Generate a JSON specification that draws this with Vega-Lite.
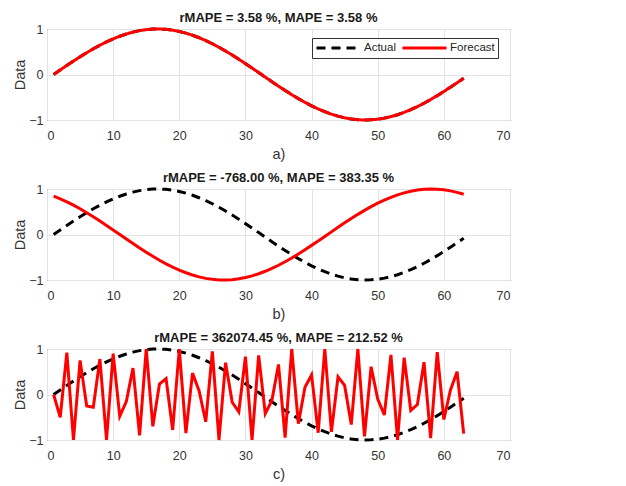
{
  "$schema": "https://vega.github.io/schema/vega-lite/v6.json",
  "padding": {"left": 12, "top": 11, "right": 5, "bottom": 2},
  "background": "white",
  "datasets": {
    "rows": [
      {"x":1,"A":0,"Fb":0.842,"Fc":0},
      {"x":2,"A":0.100,"Fb":0.783,"Fc":-0.5},
      {"x":3,"A":0.199,"Fb":0.717,"Fc":0.92},
      {"x":4,"A":0.296,"Fb":0.644,"Fc":-1},
      {"x":5,"A":0.389,"Fb":0.565,"Fc":0.75},
      {"x":6,"A":0.479,"Fb":0.479,"Fc":-0.25},
      {"x":7,"A":0.565,"Fb":0.389,"Fc":-0.28},
      {"x":8,"A":0.644,"Fb":0.296,"Fc":0.78},
      {"x":9,"A":0.717,"Fb":0.199,"Fc":-1},
      {"x":10,"A":0.783,"Fb":0.100,"Fc":0.9},
      {"x":11,"A":0.841,"Fb":0,"Fc":-0.48},
      {"x":12,"A":0.891,"Fb":-0.100,"Fc":-0.15},
      {"x":13,"A":0.932,"Fb":-0.199,"Fc":0.58},
      {"x":14,"A":0.964,"Fb":-0.296,"Fc":-0.9},
      {"x":15,"A":0.985,"Fb":-0.389,"Fc":1.0},
      {"x":16,"A":0.998,"Fb":-0.479,"Fc":-0.7},
      {"x":17,"A":1.000,"Fb":-0.565,"Fc":0.23},
      {"x":18,"A":0.992,"Fb":-0.644,"Fc":0.35},
      {"x":19,"A":0.974,"Fb":-0.717,"Fc":-0.78},
      {"x":20,"A":0.946,"Fb":-0.783,"Fc":1.0},
      {"x":21,"A":0.909,"Fb":-0.841,"Fc":-0.85},
      {"x":22,"A":0.863,"Fb":-0.891,"Fc":0.47},
      {"x":23,"A":0.808,"Fb":-0.932,"Fc":0.08},
      {"x":24,"A":0.746,"Fb":-0.964,"Fc":-0.6},
      {"x":25,"A":0.676,"Fb":-0.985,"Fc":0.95},
      {"x":26,"A":0.599,"Fb":-0.998,"Fc":-1},
      {"x":27,"A":0.516,"Fb":-1.000,"Fc":0.7},
      {"x":28,"A":0.427,"Fb":-0.992,"Fc":-0.17},
      {"x":29,"A":0.335,"Fb":-0.974,"Fc":-0.38},
      {"x":30,"A":0.239,"Fb":-0.946,"Fc":0.83},
      {"x":31,"A":0.141,"Fb":-0.909,"Fc":-1},
      {"x":32,"A":0.042,"Fb":-0.863,"Fc":0.86},
      {"x":33,"A":-0.058,"Fb":-0.808,"Fc":-0.42},
      {"x":34,"A":-0.158,"Fb":-0.746,"Fc":-0.13},
      {"x":35,"A":-0.256,"Fb":-0.676,"Fc":0.66},
      {"x":36,"A":-0.351,"Fb":-0.599,"Fc":-0.95},
      {"x":37,"A":-0.443,"Fb":-0.516,"Fc":1.0},
      {"x":38,"A":-0.530,"Fb":-0.427,"Fc":-0.64},
      {"x":39,"A":-0.612,"Fb":-0.335,"Fc":0.16},
      {"x":40,"A":-0.688,"Fb":-0.239,"Fc":0.43},
      {"x":41,"A":-0.757,"Fb":-0.141,"Fc":-0.84},
      {"x":42,"A":-0.818,"Fb":-0.042,"Fc":1.0},
      {"x":43,"A":-0.872,"Fb":0.058,"Fc":-0.82},
      {"x":44,"A":-0.916,"Fb":0.158,"Fc":0.39},
      {"x":45,"A":-0.952,"Fb":0.256,"Fc":0.2},
      {"x":46,"A":-0.978,"Fb":0.351,"Fc":-0.66},
      {"x":47,"A":-0.994,"Fb":0.443,"Fc":1.0},
      {"x":48,"A":-1.000,"Fb":0.530,"Fc":-0.92},
      {"x":49,"A":-0.996,"Fb":0.612,"Fc":0.61},
      {"x":50,"A":-0.983,"Fb":0.688,"Fc":-0.1},
      {"x":51,"A":-0.959,"Fb":0.757,"Fc":-0.45},
      {"x":52,"A":-0.926,"Fb":0.818,"Fc":0.87},
      {"x":53,"A":-0.884,"Fb":0.872,"Fc":-1},
      {"x":54,"A":-0.832,"Fb":0.916,"Fc":0.81},
      {"x":55,"A":-0.773,"Fb":0.952,"Fc":-0.35},
      {"x":56,"A":-0.706,"Fb":0.978,"Fc":-0.22},
      {"x":57,"A":-0.631,"Fb":0.994,"Fc":0.71},
      {"x":58,"A":-0.551,"Fb":1.000,"Fc":-0.96},
      {"x":59,"A":-0.465,"Fb":0.996,"Fc":0.93},
      {"x":60,"A":-0.374,"Fb":0.983,"Fc":-0.55},
      {"x":61,"A":-0.279,"Fb":0.959,"Fc":0.1},
      {"x":62,"A":-0.182,"Fb":0.926,"Fc":0.5},
      {"x":63,"A":-0.083,"Fb":0.884,"Fc":-0.86}
    ]
  },
  "config": {
    "font": "Liberation Sans",
    "view": {"stroke": "#3a3a3a", "strokeWidth": 1},
    "title": {"fontSize": 13, "fontWeight": "bold", "color": "#1a1a1a", "offset": -2},
    "axis": {
      "grid": true,
      "gridColor": "#e3e3e3",
      "domain": false,
      "ticks": false,
      "labelColor": "#333333",
      "labelFontSize": 12.5,
      "format": "d",
      "titleColor": "#333333",
      "titleFontSize": 14.5,
      "titleFontWeight": "normal"
    },
    "axisX": {"labelPadding": 9, "titlePadding": 6},
    "axisY": {"labelPadding": 4, "titlePadding": 1},
    "line": {"strokeWidth": 3},
    "concat": {"spacing": 9}
  },
  "resolve": {
    "scale": {"color": "independent", "strokeDash": "independent"},
    "legend": {"color": "independent", "strokeDash": "independent"}
  },
  "vconcat": [
    {
      "width": 463,
      "height": 91,
      "title": "rMAPE = 3.58 %, MAPE = 3.58 %",
      "data": {"name": "rows"},
      "encoding": {
        "x": {"field": "x", "type": "quantitative", "scale": {"domain": [0, 70], "nice": false}, "axis": {"values": [0,10,20,30,40,50,60,70], "title": "a)"}}
      },
      "layer": [
        {
          "mark": {"type": "line"},
          "encoding": {
            "y": {"field": "A", "type": "quantitative", "scale": {"domain": [-1, 1], "nice": false}, "axis": {"values": [-1, 0, 1], "title": "Data"}},
            "color": {"datum": "Actual", "type": "nominal", "scale": {"domain": ["Actual", "Forecast"], "range": ["#000000", "#ff0000"]},
              "legend": {"title": null, "orient": "none", "legendX": 265, "legendY": 9, "direction": "horizontal", "symbolType": "stroke", "symbolSize": 1936, "symbolStrokeWidth": 3, "clipHeight": 14, "labelFontSize": 11.5, "labelColor": "#262626", "labelOffset": 2, "columnPadding": 5, "padding": 3, "fillColor": "white", "strokeColor": "#333333"}},
            "strokeDash": {"datum": "Actual", "type": "nominal", "scale": {"domain": ["Actual", "Forecast"], "range": [[9, 6], [1, 0]]},
              "legend": {"title": null, "orient": "none", "legendX": 265, "legendY": 9, "direction": "horizontal", "symbolType": "stroke", "symbolSize": 1936, "symbolStrokeWidth": 3, "clipHeight": 14, "labelFontSize": 11.5, "labelColor": "#262626", "labelOffset": 2, "columnPadding": 5, "padding": 3, "fillColor": "white", "strokeColor": "#333333"}}
          }
        },
        {
          "mark": {"type": "line"},
          "encoding": {
            "y": {"field": "A", "type": "quantitative"},
            "color": {"datum": "Forecast", "type": "nominal"},
            "strokeDash": {"datum": "Forecast", "type": "nominal"}
          }
        }
      ]
    },
    {
      "width": 463,
      "height": 91,
      "title": "rMAPE = -768.00 %, MAPE = 383.35 %",
      "data": {"name": "rows"},
      "encoding": {
        "x": {"field": "x", "type": "quantitative", "scale": {"domain": [0, 70], "nice": false}, "axis": {"values": [0,10,20,30,40,50,60,70], "title": "b)"}}
      },
      "layer": [
        {
          "mark": {"type": "line", "stroke": "#000000", "strokeDash": [9, 6]},
          "encoding": {
            "y": {"field": "A", "type": "quantitative", "scale": {"domain": [-1, 1], "nice": false}, "axis": {"values": [-1, 0, 1], "title": "Data"}}
          }
        },
        {
          "mark": {"type": "line", "stroke": "#ff0000"},
          "encoding": {"y": {"field": "Fb", "type": "quantitative"}}
        }
      ]
    },
    {
      "width": 463,
      "height": 91,
      "title": "rMAPE = 362074.45 %, MAPE = 212.52 %",
      "data": {"name": "rows"},
      "encoding": {
        "x": {"field": "x", "type": "quantitative", "scale": {"domain": [0, 70], "nice": false}, "axis": {"values": [0,10,20,30,40,50,60,70], "title": "c)"}}
      },
      "layer": [
        {
          "mark": {"type": "line", "stroke": "#000000", "strokeDash": [9, 6]},
          "encoding": {
            "y": {"field": "A", "type": "quantitative", "scale": {"domain": [-1, 1], "nice": false}, "axis": {"values": [-1, 0, 1], "title": "Data"}}
          }
        },
        {
          "mark": {"type": "line", "stroke": "#ff0000"},
          "encoding": {"y": {"field": "Fc", "type": "quantitative"}}
        }
      ]
    }
  ]
}
